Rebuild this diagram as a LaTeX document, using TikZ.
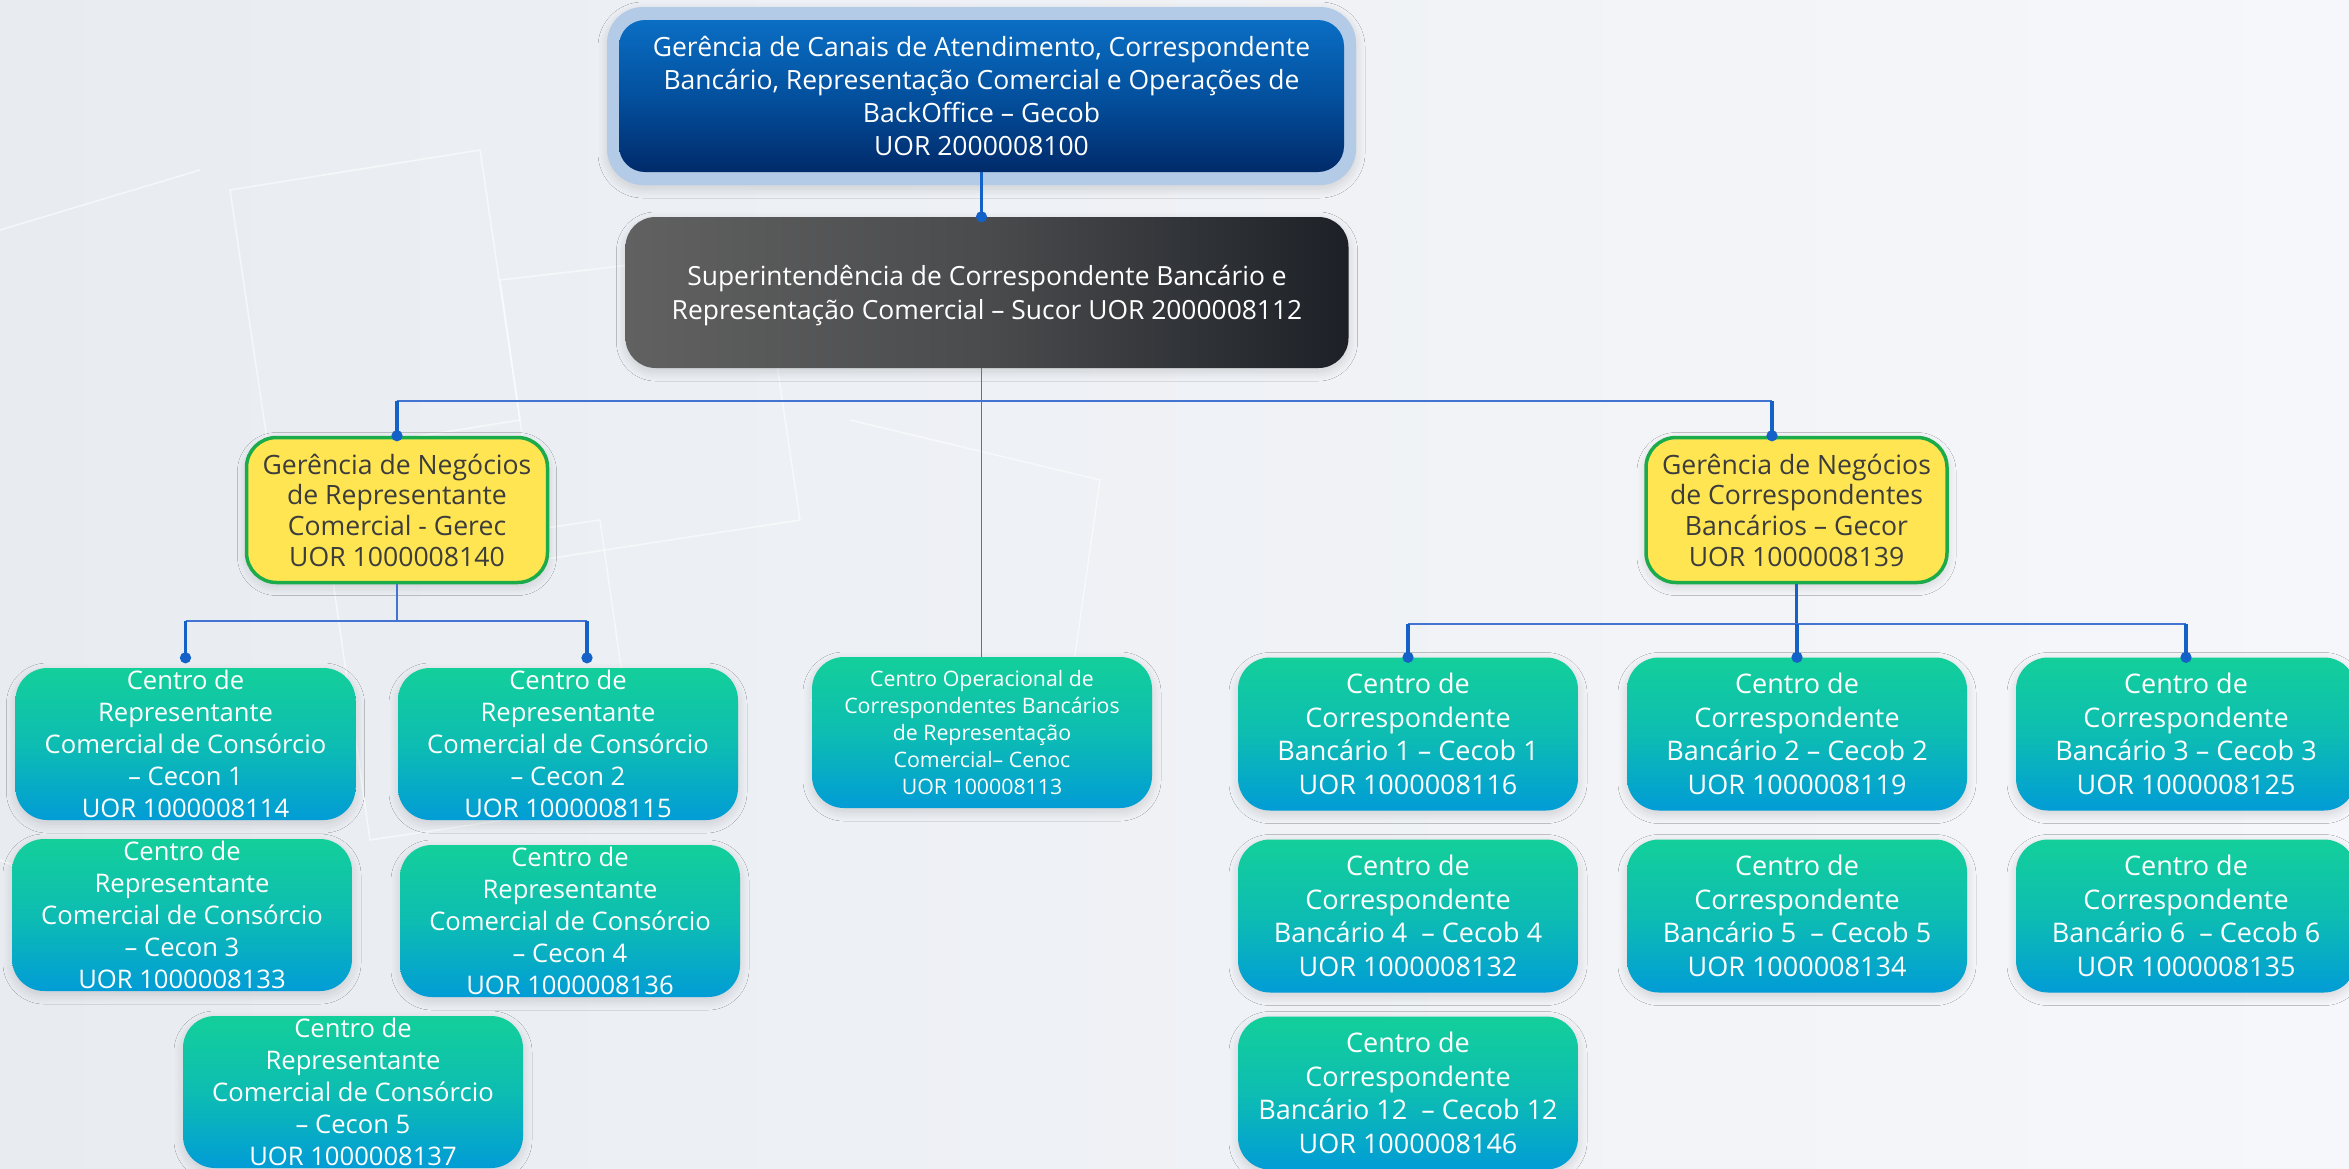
\documentclass[tikz,border=0pt]{standalone}
\usepackage{fontspec}
\setmainfont{Open Sans}
\usetikzlibrary{calc,arrows.meta,shadows.blur}
\definecolor{bgL}{HTML}{E8ECF1}
\definecolor{bgR}{HTML}{F6F7FA}
\definecolor{lnthin}{HTML}{4474D2}
\definecolor{lnthick}{HTML}{1462C8}
\definecolor{gTop}{HTML}{13CF9A}
\definecolor{gMid}{HTML}{0DBDB2}
\definecolor{gBot}{HTML}{019CD6}
\definecolor{bTop}{HTML}{0A6EC4}
\definecolor{bMid}{HTML}{03509E}
\definecolor{bBot}{HTML}{012A6A}
\definecolor{glow}{HTML}{B3CBE6}
\definecolor{sL}{HTML}{616161}
\definecolor{sM}{HTML}{4A4B4D}
\definecolor{sR}{HTML}{1D2127}
\definecolor{ylw}{HTML}{FFE552}
\definecolor{ygrn}{HTML}{1CAB4A}
\definecolor{ytxt}{HTML}{3C3C3C}
\begin{document}
\begin{tikzpicture}[x=1pt,y=-1pt,
  shadowed/.style={blur shadow={shadow xshift=0pt, shadow yshift=-4pt, shadow blur steps=10, shadow blur radius=9pt, shadow opacity=14}},
  cbox/.style={shadowed, rectangle, rounded corners=32pt, inner sep=0pt, align=center, text=white,
    minimum width=340pt, top color=gTop, bottom color=gBot, middle color=gMid},
  cecon/.style={cbox, minimum height=152pt, font=\fontsize{25.6}{32}\selectfont},
  cecob/.style={cbox, minimum height=153pt, font=\fontsize{27}{33.7}\selectfont},
  cenocbox/.style={cbox, minimum height=151pt, font=\fontsize{21.3}{27}\selectfont},
  gerbox/.style={shadowed, rectangle, rounded corners=30pt, inner sep=0pt, align=center, text=ytxt,
    fill=ylw, draw=ygrn, line width=3.5pt, minimum width=301pt, minimum height=145pt,
    font=\fontsize{26.6}{30.7}\selectfont},
  lthin/.style={draw=lnthin, line width=1.8pt},
  lthick/.style={draw=lnthick, line width=3.6pt},
  dotend/.style={-{Circle[length=11pt,width=11pt]}, shorten >=-5.5pt},
  dotgap/.style={-{Circle[length=11pt,width=11pt]}, shorten >=4.5pt}]
\useasboundingbox (0,0) rectangle (2349,1168);
\fill[left color=bgL, right color=bgR] (0,0) rectangle (2349,1168);
% faint background decoration
\begin{scope}[draw=white, line width=1.6pt, opacity=0.55]
  \draw (230,190) -- (480,150) -- (520,420) -- (270,460) -- cycle;
  \draw (500,280) -- (760,250) -- (800,520) -- (540,560) -- cycle;
  \draw (330,560) -- (600,520) -- (640,800) -- (370,840) -- cycle;
  \draw (850,420) -- (1100,480) -- (1060,760) -- (810,700);
  \draw (0,230) -- (200,170);
  \draw (0,860) -- (260,960);
\end{scope}

% top management
\node[shadowed, rectangle, rounded corners=36pt, fill=glow, minimum width=749pt, minimum height=178pt] (gecobglow) at (981.5,96) {};
\node[rectangle, rounded corners=26pt, inner sep=0pt, align=center, text=white,
  minimum width=725pt, minimum height=152pt, top color=bTop, bottom color=bBot, middle color=bMid,
  font=\fontsize{26.5}{33.3}\selectfont] (gecob) at (981.5,96)
  {Gerência de Canais de Atendimento, Correspondente\\Bancário, Representação Comercial e Operações de\\BackOffice – Gecob\\UOR 2000008100};
\node[shadowed, rectangle, rounded corners=30pt, inner sep=0pt, align=center, text=white,
  minimum width=723pt, minimum height=151pt, left color=sL, right color=sR, middle color=sM,
  font=\fontsize{26.4}{34}\selectfont, text depth=0pt] (sucor) at (987,292.5)
  {Superintendência de Correspondente Bancário e\\Representação Comercial – Sucor UOR 2000008112};

% managers
\node[gerbox] (gerec) at (397,510) {Gerência de Negócios\\de Representante\\Comercial - Gerec\\UOR 1000008140};
\node[gerbox] (gecor) at (1796.5,510) {Gerência de Negócios\\de Correspondentes\\Bancários – Gecor\\UOR 1000008139};

% Cenoc
\node[cenocbox] (cenoc) at (982,732.5) {Centro Operacional de\\Correspondentes Bancários\\de Representação\\Comercial– Cenoc\\UOR 100008113};

% Cecon
\node[cecon] (cecon1) at (185.5,744) {Centro de\\Representante\\Comercial de Consórcio\\– Cecon 1\\UOR 1000008114};
\node[cecon] (cecon2) at (568,744) {Centro de\\Representante\\Comercial de Consórcio\\– Cecon 2\\UOR 1000008115};
\node[cecon] (cecon3) at (182,915) {Centro de\\Representante\\Comercial de Consórcio\\– Cecon 3\\UOR 1000008133};
\node[cecon] (cecon4) at (570,921) {Centro de\\Representante\\Comercial de Consórcio\\– Cecon 4\\UOR 1000008136};
\node[cecon] (cecon5) at (353,1092) {Centro de\\Representante\\Comercial de Consórcio\\– Cecon 5\\UOR 1000008137};

% Cecob
\node[cecob] (cecob1) at (1408,734) {Centro de\\Correspondente\\Bancário 1 – Cecob 1\\UOR 1000008116};
\node[cecob] (cecob2) at (1797,734) {Centro de\\Correspondente\\Bancário 2 – Cecob 2\\UOR 1000008119};
\node[cecob] (cecob3) at (2186,734) {Centro de\\Correspondente\\Bancário 3 – Cecob 3\\UOR 1000008125};
\node[cecob] (cecob4) at (1408,916) {Centro de\\Correspondente\\Bancário 4 \ – Cecob 4\\UOR 1000008132};
\node[cecob] (cecob5) at (1797,916) {Centro de\\Correspondente\\Bancário 5 \ – Cecob 5\\UOR 1000008134};
\node[cecob] (cecob6) at (2186,916) {Centro de\\Correspondente\\Bancário 6 \ – Cecob 6\\UOR 1000008135};
\node[cecob] (cecob12) at (1408,1093) {Centro de\\Correspondente\\Bancário 12 \ – Cecob 12\\UOR 1000008146};

% connectors
\coordinate (yb1) at (0,401);
\coordinate (yb2) at (0,621);
\coordinate (yb3) at (0,624);
\coordinate (gecorin) at ($(gecor.north)+(-24.5,0)$);
\coordinate (cecon2in) at ($(cecon2.north)+(19,0)$);

\draw[draw=lnthick, line width=2.4pt, dotend] (gecob.south) -- (gecob.south |- sucor.north);
\draw[lthin] (gecob.south |- sucor.south) -- (gecob.south |- cenoc.north);
\draw[lthin] (gerec.north |- yb1) -- (gecorin |- yb1);
\draw[lthick, dotend] (gerec.north |- yb1) -- (gerec.north);
\draw[lthick, dotend] (gecorin |- yb1) -- (gecorin);

\draw[lthin] (gerec.south) -- (gerec.south |- yb2);
\draw[lthin] (cecon1.north |- yb2) -- (cecon2in |- yb2);
\draw[lthick, dotgap] (cecon1.north |- yb2) -- (cecon1.north);
\draw[lthick, dotgap] (cecon2in |- yb2) -- (cecon2in);

\draw[lthick] (gecor.south) -- (gecor.south |- yb3);
\draw[lthin] (cecob1.north |- yb3) -- (cecob3.north |- yb3);
\draw[lthick, dotend] (cecob1.north |- yb3) -- (cecob1.north);
\draw[lthick, dotend] (cecob2.north |- yb3) -- (cecob2.north);
\draw[lthick, dotend] (cecob3.north |- yb3) -- (cecob3.north);
\end{tikzpicture}
\end{document}
